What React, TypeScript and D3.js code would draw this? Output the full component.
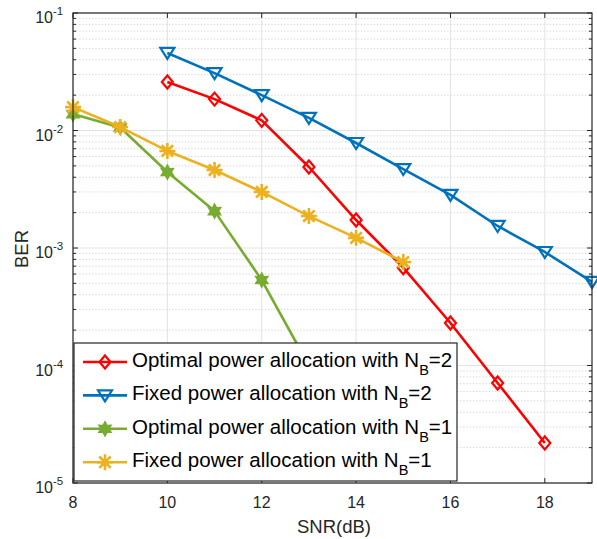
import React from 'react';
import * as d3 from 'd3';

// SNR in dB on the x axis
const snrOptimal2 = [10, 11, 12, 13, 14, 15, 16, 17, 18];
const berOptimal2 = [0.0259, 0.0185, 0.0122, 0.00489, 0.00173, 0.00068, 0.00023, 0.000071, 0.0000219];

const snrFixed2 = [10, 11, 12, 13, 14, 15, 16, 17, 18, 19];
const berFixed2 = [0.0457, 0.0308, 0.02, 0.0128, 0.00783, 0.0047, 0.00283, 0.00154, 0.000925, 0.000514];

const snrOptimal1 = [8, 9, 10, 11, 12, 13, 14];
const berOptimal1 = [0.0138, 0.0106, 0.00443, 0.00206, 0.000534, 0.0001, 0.000018];

const snrFixed1 = [8, 9, 10, 11, 12, 13, 14, 15];
const berFixed1 = [0.0158, 0.0107, 0.0067, 0.00461, 0.003, 0.00187, 0.00122, 0.00076];

const xTicks = [8, 10, 12, 14, 16, 18];
const yExponents = [-1, -2, -3, -4, -5];

const seriesNames = [
  'Optimal power allocation with N',
  'Fixed power allocation with N',
  'Optimal power allocation with N',
  'Fixed power allocation with N',
];
const seriesSub = ['2', '2', '1', '1'];

const W = 597;
const H = 539;
const left = 73;
const right = 592;
const top = 13;
const bottom = 483;
const axisColor = '#262626';
const font = 'Arial, "Liberation Sans", Helvetica, sans-serif';

const diamond = 'M0,-6.5L5.5,0L0,6.5L-5.5,0Z';
const triDown = 'M-7,-5L7,-5L0,6Z';
const hexagram = (() => {
  const pts: string[] = [];
  for (let i = 0; i < 12; i++) {
    const r = i % 2 === 0 ? 6.5 : 3.6;
    const a = (Math.PI / 6) * i - Math.PI / 2;
    pts.push(`${(r * Math.cos(a)).toFixed(2)},${(r * Math.sin(a)).toFixed(2)}`);
  }
  return 'M' + pts.join('L') + 'Z';
})();
const asterisk = 'M0,-8V8M-8,0H8M-5.7,-5.7L5.7,5.7M-5.7,5.7L5.7,-5.7';

const series = [
  { xs: snrOptimal2, ys: berOptimal2, color: '#FF0000', marker: diamond, fill: 'none', mw: 2.2 },
  { xs: snrFixed2, ys: berFixed2, color: '#0072BD', marker: triDown, fill: 'none', mw: 2.2 },
  { xs: snrOptimal1, ys: berOptimal1, color: '#77AC30', marker: hexagram, fill: '#77AC30', mw: 2 },
  { xs: snrFixed1, ys: berFixed1, color: '#EDB120', marker: asterisk, fill: 'none', mw: 2.6 },
];

export default function App() {
  const x = d3.scaleLinear().domain([8, 19]).range([left, right]);
  const y = d3.scaleLog().domain([1e-5, 1e-1]).range([bottom, top]);
  const line = d3
    .line<[number, number]>()
    .x((d) => x(d[0]))
    .y((d) => y(d[1]));

  const minor: number[] = [];
  for (let e = -5; e < -1; e++) {
    for (let m = 2; m <= 9; m++) minor.push(m * Math.pow(10, e));
  }

  const legX = 74;
  const legY = 343;
  const legW = 383;
  const legH = 138;
  const rowH = 33.4;

  return (
    <svg width={W} height={H} style={{ position: 'absolute', left: 0, top: 0, background: '#fff' }} fontFamily={font}>
      <rect x={left} y={top} width={right - left} height={bottom - top} fill="#fff" />
      {/* grid */}
      {minor.map((v, i) => (
        <line key={'mg' + i} x1={left} x2={right} y1={y(v)} y2={y(v)} stroke="#c8c8c8" strokeWidth={1} strokeDasharray="1,2.2" />
      ))}
      {yExponents.map((e) => (
        <line key={'yg' + e} x1={left} x2={right} y1={y(Math.pow(10, e))} y2={y(Math.pow(10, e))} stroke="#e3e3e3" strokeWidth={1} />
      ))}
      {xTicks.map((t) => (
        <line key={'xg' + t} x1={x(t)} x2={x(t)} y1={top} y2={bottom} stroke="#e3e3e3" strokeWidth={1} />
      ))}
      {/* ticks */}
      {xTicks.map((t) => (
        <g key={'xt' + t}>
          <line x1={x(t)} x2={x(t)} y1={bottom} y2={bottom - 5} stroke={axisColor} />
          <line x1={x(t)} x2={x(t)} y1={top} y2={top + 5} stroke={axisColor} />
          <text x={x(t)} y={508} textAnchor="middle" fontSize={16} fill={axisColor}>
            {t}
          </text>
        </g>
      ))}
      {minor.map((v, i) => (
        <g key={'mt' + i}>
          <line x1={left} x2={left + 3} y1={y(v)} y2={y(v)} stroke={axisColor} />
          <line x1={right} x2={right - 3} y1={y(v)} y2={y(v)} stroke={axisColor} />
        </g>
      ))}
      {yExponents.map((e) => {
        const yy = y(Math.pow(10, e));
        return (
          <g key={'yt' + e}>
            <line x1={left} x2={left + 5} y1={yy} y2={yy} stroke={axisColor} />
            <line x1={right} x2={right - 5} y1={yy} y2={yy} stroke={axisColor} />
            <text x={53} y={yy + 10} textAnchor="end" fontSize={16} fill={axisColor}>
              10
            </text>
            <text x={53} y={yy + 2} textAnchor="start" fontSize={11.5} fill={axisColor}>
              {String(e)}
            </text>
          </g>
        );
      })}
      {/* series */}
      {series.map((s, i) => {
        const pts = s.xs.map((v, j) => [v, s.ys[j]] as [number, number]);
        return (
          <g key={'s' + i}>
            <path d={line(pts) || ''} fill="none" stroke={s.color} strokeWidth={2.6} strokeLinejoin="round" />
            {pts.map((p, j) => (
              <path
                key={j}
                d={s.marker}
                transform={`translate(${x(p[0])},${y(p[1])})`}
                fill={s.fill}
                stroke={s.color}
                strokeWidth={s.mw}
              />
            ))}
          </g>
        );
      })}
      {/* axes box */}
      <rect x={left} y={top} width={right - left} height={bottom - top} fill="none" stroke={axisColor} strokeWidth={1.2} />
      {/* axis labels */}
      <text x={334} y={533} textAnchor="middle" fontSize={18.5} fill={axisColor}>
        SNR(dB)
      </text>
      <text transform={`translate(28,249) rotate(-90)`} textAnchor="middle" fontSize={18.5} fill={axisColor}>
        BER
      </text>
      {/* legend */}
      <rect x={legX} y={legY} width={legW} height={legH} fill="#fff" stroke={axisColor} strokeWidth={1.2} />
      {series.map((s, i) => {
        const cy = legY + 19 + i * rowH;
        return (
          <g key={'lg' + i}>
            <line x1={legX + 9} x2={legX + 53} y1={cy} y2={cy} stroke={s.color} strokeWidth={2.6} />
            <path d={s.marker} transform={`translate(${legX + 31},${cy})`} fill={s.fill} stroke={s.color} strokeWidth={s.mw} />
            <text x={legX + 58} y={cy + 5} fontSize={20.5} fill="#000">
              {seriesNames[i]}
              <tspan dy={8} fontSize={14.5}>B</tspan>
              <tspan dy={-8}>={seriesSub[i]}</tspan>
            </text>
          </g>
        );
      })}
    </svg>
  );
}
